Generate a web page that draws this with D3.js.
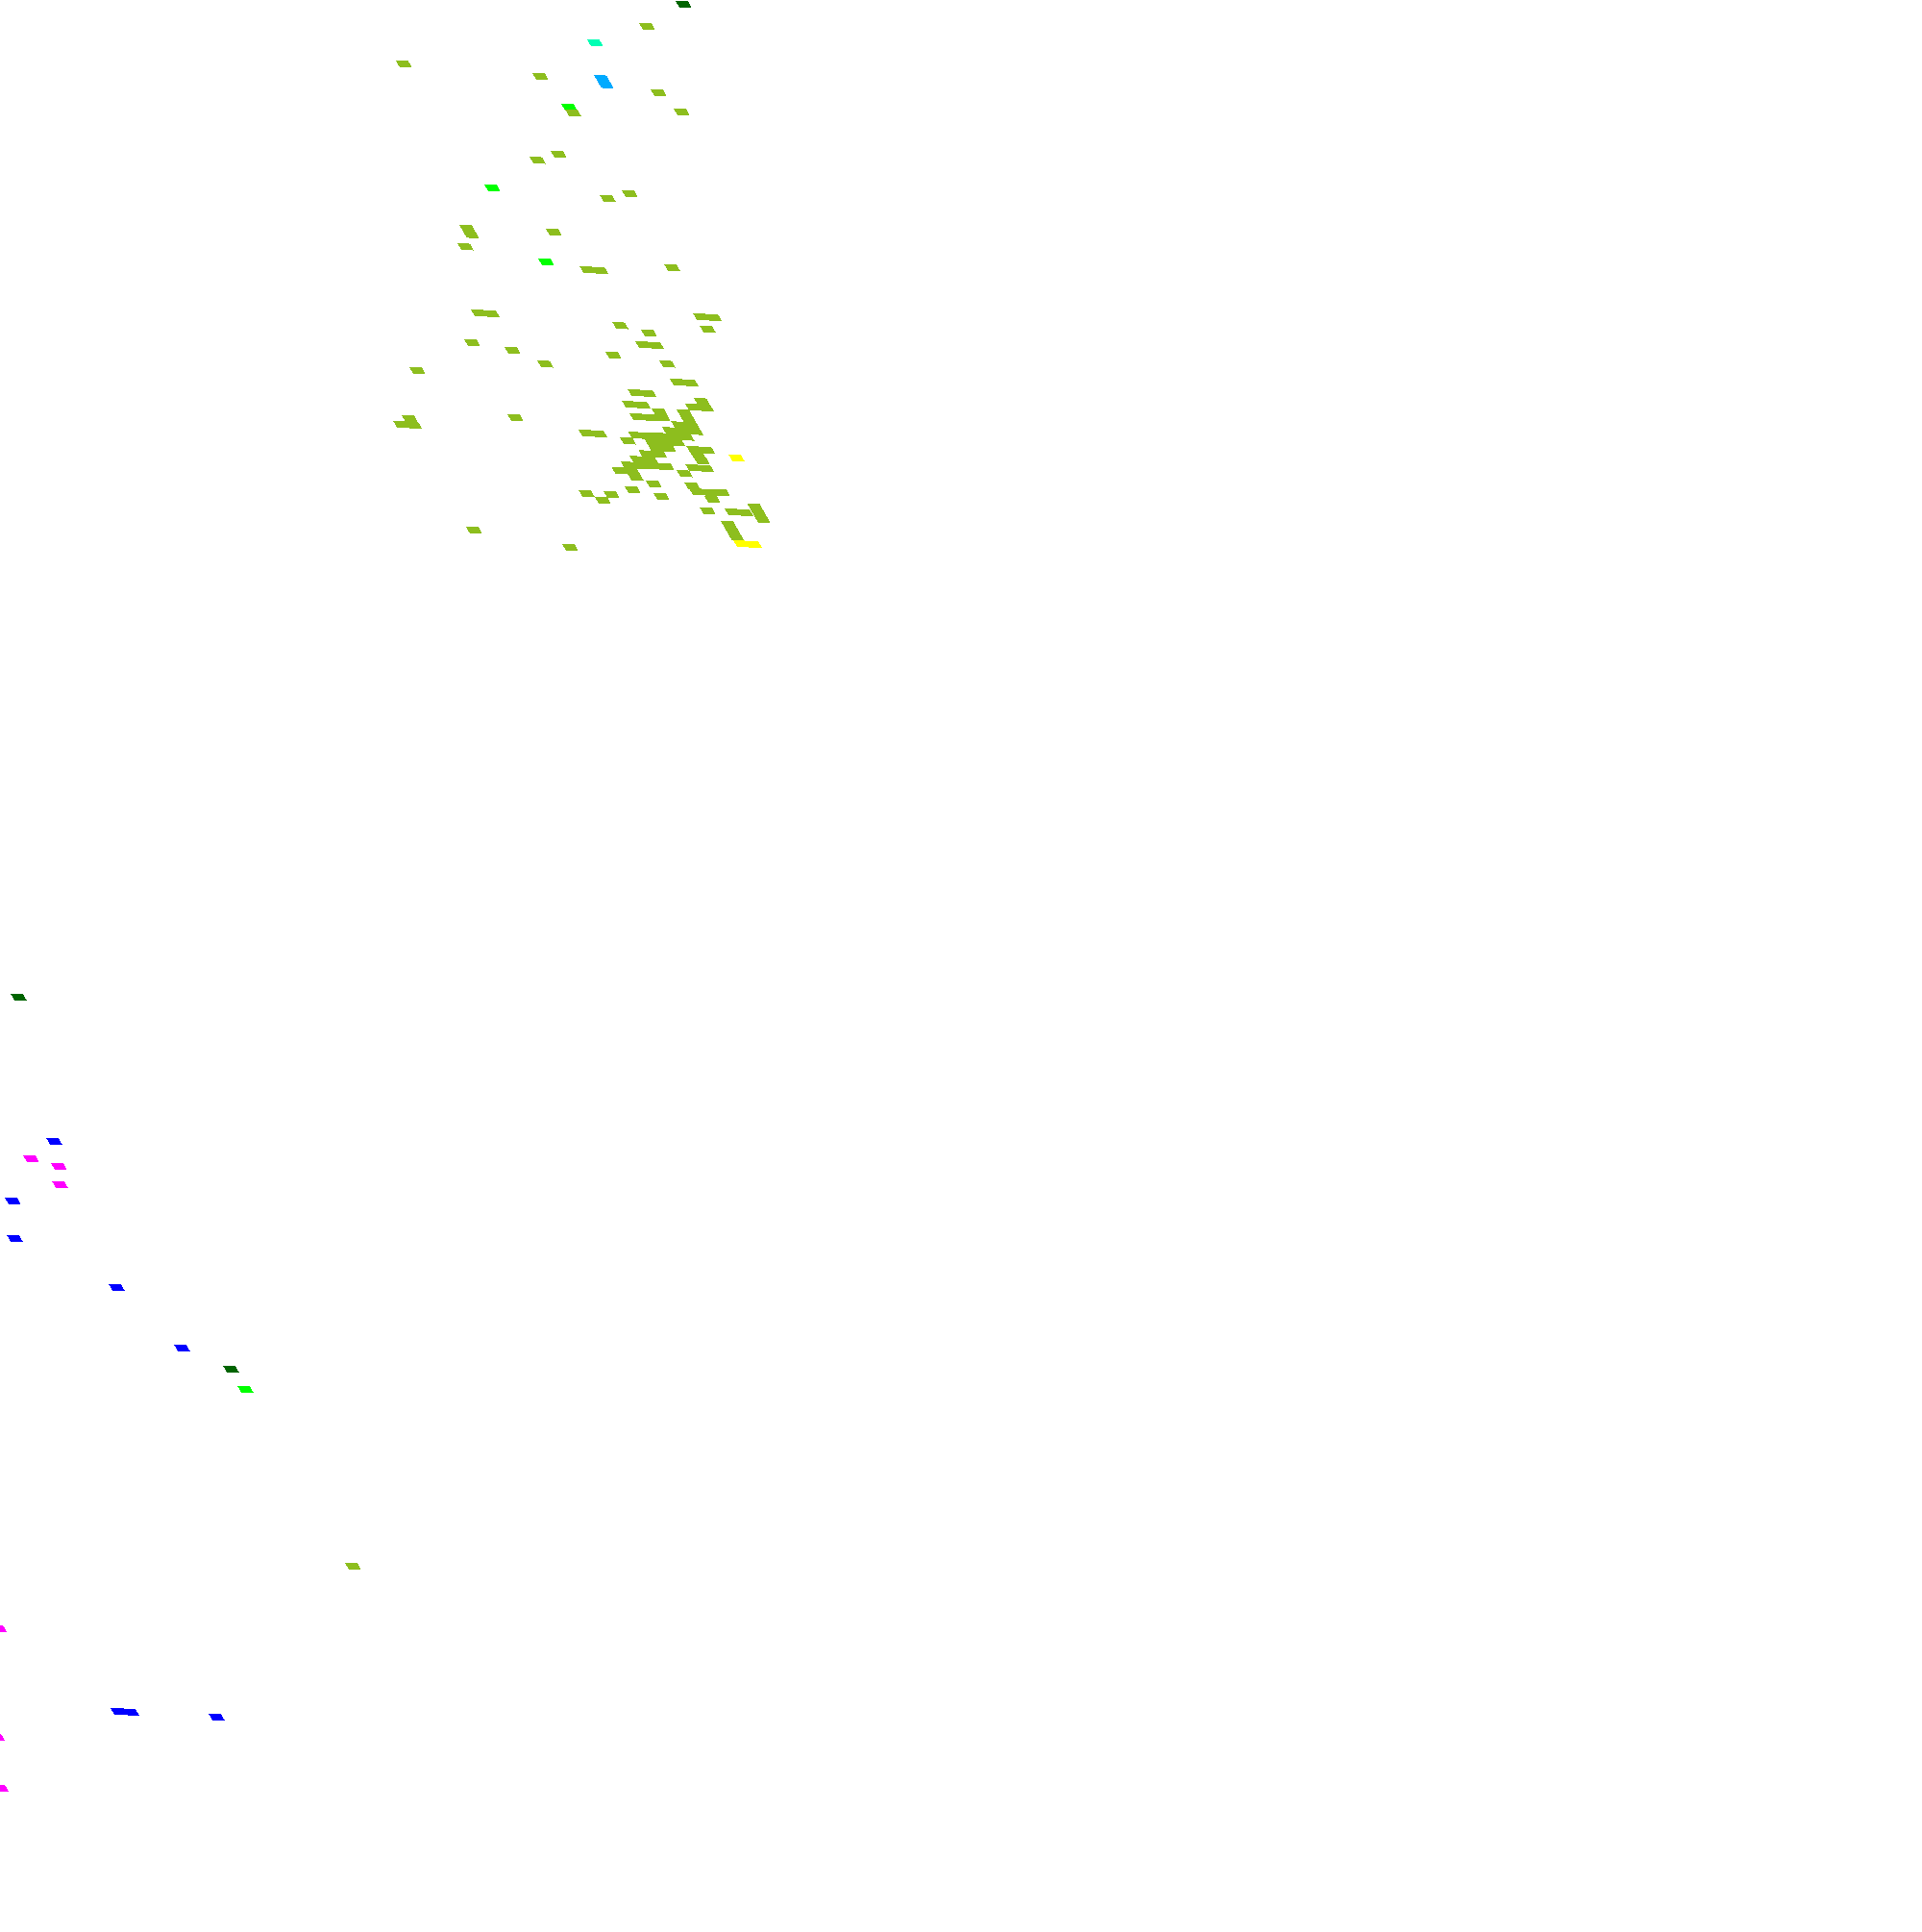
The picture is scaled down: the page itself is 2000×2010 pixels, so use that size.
<!DOCTYPE html>
<html>
<head>
<meta charset="utf-8">
<style>
  html, body { margin: 0; background: #fff; }
  svg { display: block; }
  .cell { shape-rendering: crispEdges; }
</style>
</head>
<body>
<svg class="graph"></svg>
<script src="https://cdn.jsdelivr.net/npm/d3@7"></script>
<script>
// Grid positions: column and row of every cell, per colour

var darkGreenCols = [55.25, -45.50, -45.48]
var darkGreenRows = [-4.16, 165.11, 225.58]

var tealCols = [46.21]
var tealRows = [2.80]

var skyCols = [45.11, 45.11]
var skyRows = [8.67, 9.67]

var greenCols = [41.09, 31.03, 31.98, -45.24]
var greenRows = [13.66, 27.58, 39.53, 228.84]

var oliveCols = [
  51.22, 29.57, 40.16, 49.08, 41.14, 50.06, 38.03, 36.03, 42.01, 39.98,
  27.10, 27.10, 34.00, 26.09, 35.01, 36.01, 42.02,
  24.10, 25.10, 42.09, 43.09, 35.08, 37.08, 42.06, 22.16, 36.07, 37.07,
  25.10, 33.13, 37.13, 27.14, 16.37, 37.15, 38.15, 33.20, 34.20,
  32.19, 33.19, 38.22, 37.24, 38.24, 34.26, 32.23, 33.23, 34.23,
  36.26, 36.26, 36.26, 36.26,
  27.30, 28.30, 22.20, 12.53, 13.53, 13.50,
  35.26, 34.26, 35.26,
  31.26, 32.26, 33.26, 34.26, 35.26,
  32.26, 33.26, 34.26, 30.32,
  32.26, 33.26, 31.26, 32.26, 30.26, 31.26,
  29.26, 30.26, 31.26, 32.26, 28.26, 29.26, 29.26, 30.42,
  35.35, 36.35, 35.39, 35.43, 34.42, 35.42, 33.44,
  28.43, 30.47, 24.48, 26.47, 25.49,
  33.49, 33.61, 34.61, 35.61, 34.51, 33.58,
  35.57, 36.57, 37.65, 37.65, 37.65,
  34.68, 34.68, 34.68, 13.56, 20.62, -44.70
]
var oliveRows = [
  -0.25, 7.53, 8.74, 10.70, 14.60, 13.75, 21.56, 22.66, 27.66, 28.60,
  34.45, 35.45, 34.53, 37.50, 40.55, 40.55, 39.69,
  48.43, 48.43, 47.65, 47.65, 49.61, 50.69, 49.68, 53.42, 52.65, 52.65,
  54.45, 54.60, 55.70, 56.48, 58.40, 58.66, 58.66, 60.69, 60.69,
  62.65, 62.65, 61.71, 62.72, 62.72, 63.73, 64.67, 64.67, 64.67,
  63.73, 64.73, 65.73, 66.73,
  67.71, 67.71, 65.61, 67.46, 67.46, 66.44,
  65.73, 66.73, 66.73,
  67.73, 67.73, 67.73, 67.73, 67.73,
  68.73, 68.73, 68.73, 68.73,
  69.73, 69.73, 70.73, 70.73, 71.73, 71.73,
  72.73, 72.73, 72.73, 72.73, 73.73, 73.73, 74.73, 75.75,
  69.74, 69.74, 70.67, 71.61, 72.78, 72.78, 73.80,
  76.84, 77.77, 77.77, 77.77, 78.79,
  75.82, 76.75, 76.75, 76.75, 77.93, 79.88,
  79.88, 79.88, 78.90, 79.90, 80.90,
  81.97, 82.97, 83.97, 84.56, 86.83, 257.55
]

var yellowCols = [38.41, 34.80, 35.80]
var yellowRows = [70.91, 85.10, 85.10]

var blueCols = [-49.32, -55.49, -57.08, -51.03, -48.50, -70.66, -69.66, -62.90]
var blueRows = [188.85, 199.02, 205.24, 212.74, 222.38, 283.17, 283.17, 283.50]

var magentaCols = [-52.02, -50.10, -50.87, -76.60, -81.83, -83.89]
var magentaRows = [191.87, 192.97, 196.00, 270.20, 288.26, 296.71]

var conf = {
  width: 2000,
  height: 2010,
  cellWidth: 13,
  cellHeight: 6.4,
  rowPad: 0.6,
  skewX: 3.65,
  skewY: 0.5
}

// Later series paint over earlier ones
var series = [
  { color: '#00ff00', cols: greenCols, rows: greenRows },
  { color: '#8dbe1e', cols: oliveCols, rows: oliveRows },
  { color: '#ffff00', cols: yellowCols, rows: yellowRows },
  { color: '#006400', cols: darkGreenCols, rows: darkGreenRows },
  { color: '#00ffb4', cols: tealCols, rows: tealRows },
  { color: '#00aaff', cols: skyCols, rows: skyRows },
  { color: '#0000ff', cols: blueCols, rows: blueRows },
  { color: '#ff00ff', cols: magentaCols, rows: magentaRows }
]

var x = d3.scaleLinear().domain([0, 1]).range([0, conf.cellWidth])
var y = d3.scaleLinear().domain([0, 1]).range([0, conf.cellHeight])

var graph = d3.select('.graph')
  .attr('width', conf.width)
  .attr('height', conf.height)
  .attr('viewBox', '0 0 ' + conf.width + ' ' + conf.height)

// The whole grid is sheared
var grid = graph.append('g')
  .attr('transform', 'matrix(1,' + (conf.skewY / conf.cellWidth) + ',' + (conf.skewX / conf.cellHeight) + ',1,0,0)')

series.forEach(function (s) {
  var cells = s.cols.map(function (c, i) {
    return { col: c, row: s.rows[i] }
  })

  grid.append('g')
    .attr('fill', s.color)
    .selectAll('rect')
    .data(cells)
    .enter()
      .append('rect')
      .attr('class', 'cell')
      .attr('x', function (d) { return x(d.col) })
      .attr('y', function (d) { return y(d.row) })
      .attr('width', x(1) - x(0))
      .attr('height', y(1) - y(0) + conf.rowPad)
})
</script>
</body>
</html>
